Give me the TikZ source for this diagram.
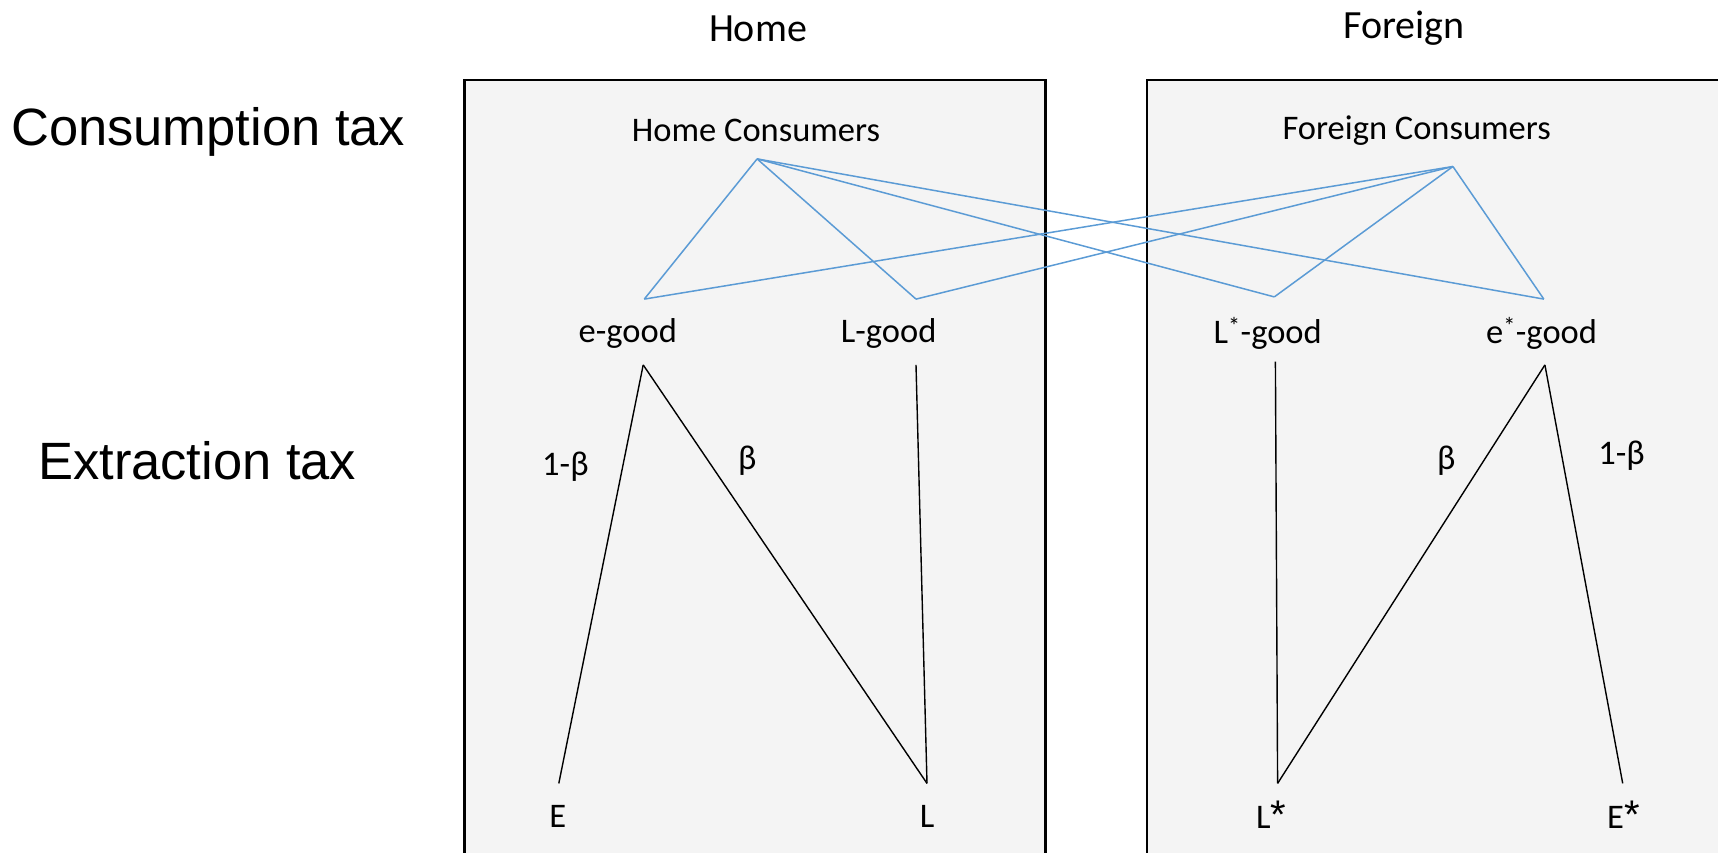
\documentclass[tikz,border=0pt]{standalone}
\usepackage{fontspec}
\setmainfont{Carlito}
\newfontfamily\sidefont{Liberation Sans}
\definecolor{linkblue}{HTML}{5B9BD5}
\definecolor{panelgray}{HTML}{F4F4F4}
\newcommand{\bigstar}{{\sidefont\fontsize{40}{46}\selectfont *}}
\tikzset{
  lbl/.style={font=\fontsize{34.5}{40}\selectfont, inner sep=0pt},
  headlbl/.style={font=\fontsize{40}{46}\selectfont, inner sep=0pt},
  sidelbl/.style={font=\sidefont\fontsize{52.5}{60}\selectfont, inner sep=0pt, anchor=west},
  panel/.style={draw=black, line width=2.5pt, fill=panelgray},
  demand/.style={draw=linkblue, line width=1.5pt},
  supply/.style={draw=black, line width=1.4pt}
}
\begin{document}
\begin{tikzpicture}[x=1pt,y=-1pt]
  \useasboundingbox (0,0) rectangle (1718,853);
  \clip (0,0) rectangle (1718,853);

  % country panels
  \path[panel] (464.6,80) rectangle (1045.3,880);
  \path[panel] (1147.2,80) rectangle (1740,880);

  % headings
  \node[headlbl] (home) at (758,28.5) {Home};
  \node[headlbl] (foreign) at (1404,28.5) {Foreign};
  \node[sidelbl] (ctax) at (11,132) {Consumption tax};
  \node[sidelbl] (xtax) at (38,460.5) {Extraction tax};

  % consumers and goods
  \node[lbl] (hcons) at (756,130.5) {Home Consumers};
  \node[lbl] (fcons) at (1416.7,130.5) {Foreign Consumers};
  \node[lbl] (egood) at (627.8,333) {e-good};
  \node[lbl] (lgood) at (888.6,333) {L-good};
  \node[lbl] (lsgood) at (1267.7,333) {L\textsuperscript{*}-good};
  \node[lbl] (esgood) at (1541.6,333) {e\textsuperscript{*}-good};

  % resources
  \node[lbl] (E) at (557.7,816.5) {E};
  \node[lbl] (L) at (927,816.5) {L};
  \node[lbl, anchor=base west] (Ls) at (1256,828) {L\bigstar};
  \node[lbl, anchor=base west] (Es) at (1607,828) {E\bigstar};

  % shares
  \node[lbl] (oneb) at (565.4,466.5) {1-β};
  \node[lbl] (bh) at (747.3,460.5) {β};
  \node[lbl] (bf) at (1446.3,460.5) {β};
  \node[lbl] (onebf) at (1621.6,455.5) {1-β};

  % connector end points
  \coordinate (hhub) at (757.1,158.9);
  \coordinate (fhub) at (1452.9,166.5);
  \coordinate (etop) at (644.3,299.1);
  \coordinate (ltop) at (916,299.1);
  \coordinate (lstop) at (1274.3,296.9);
  \coordinate (estop) at (1543.8,299.1);
  \coordinate (ebot) at (643.2,364.9);
  \coordinate (lbot) at (916,364.9);
  \coordinate (lsbot) at (1275.4,361.6);
  \coordinate (esbot) at (1544.9,364.9);
  \coordinate (Etop) at (558.8,783.4);
  \coordinate (Ltop) at (927,783.4);
  \coordinate (Lstop) at (1277.6,783.4);
  \coordinate (Estop) at (1622.7,783.4);

  % consumption links
  \draw[demand] (hhub) -- (etop);
  \draw[demand] (hhub) -- (ltop);
  \draw[demand] (hhub) -- (lstop);
  \draw[demand] (hhub) -- (estop);
  \draw[demand] (fhub) -- (etop);
  \draw[demand] (fhub) -- (ltop);
  \draw[demand] (fhub) -- (lstop);
  \draw[demand] (fhub) -- (estop);

  % extraction links
  \draw[supply] (ebot) -- (Etop);
  \draw[supply] (ebot) -- (Ltop);
  \draw[supply] (lbot) -- (Ltop);
  \draw[supply] (lsbot) -- (Lstop);
  \draw[supply] (esbot) -- (Lstop);
  \draw[supply] (esbot) -- (Estop);
\end{tikzpicture}
\end{document}
